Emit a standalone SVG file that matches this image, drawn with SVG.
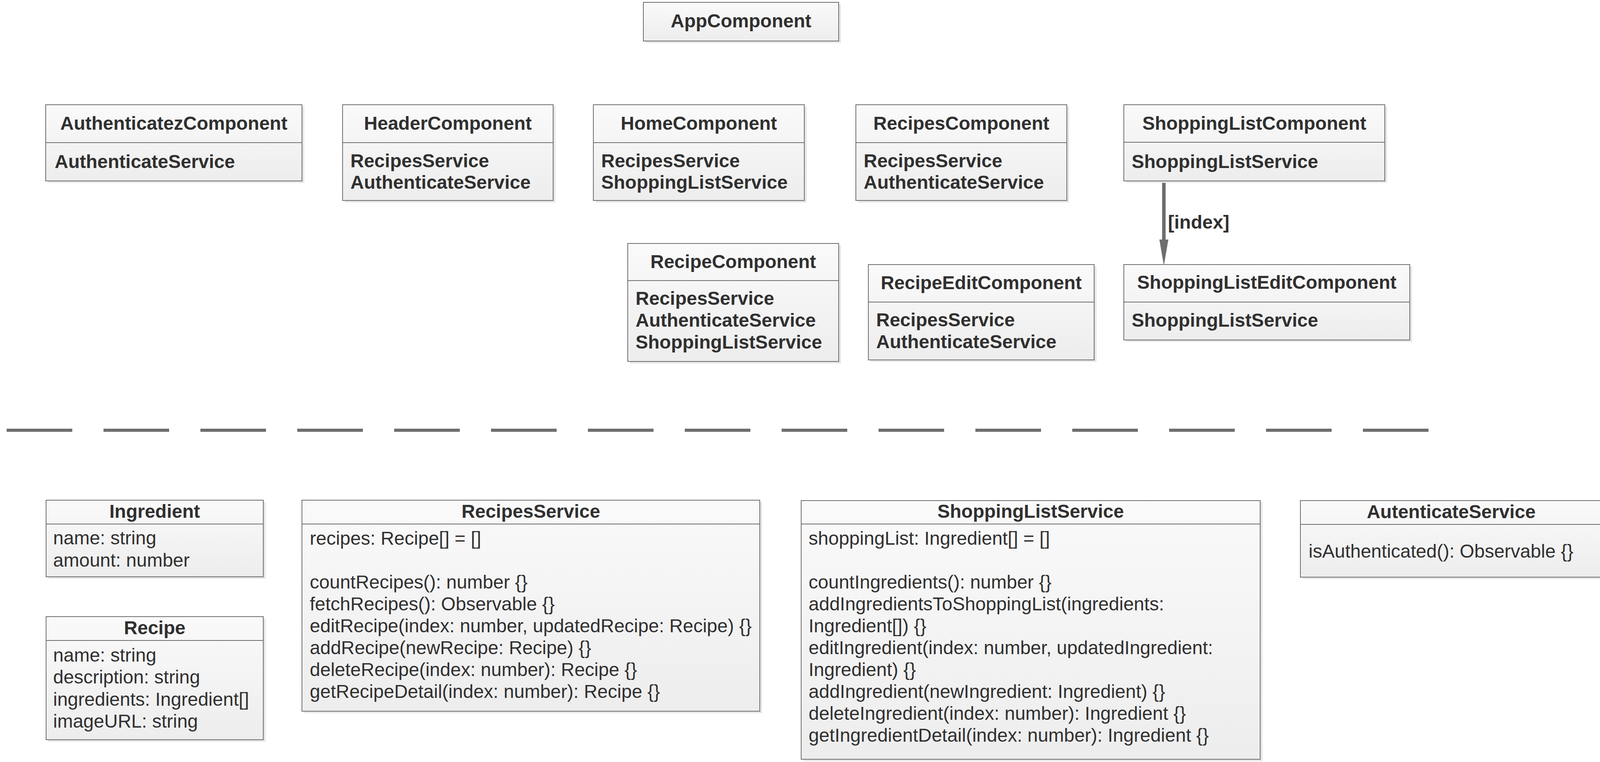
<svg xmlns="http://www.w3.org/2000/svg" width="4108" height="1950" viewBox="0 0 4108 1950">
<defs>
<linearGradient id="boxfill" x1="0" y1="0" x2="0" y2="1">
<stop offset="0" stop-color="#FAFAFA"/>
<stop offset="1" stop-color="#EDEDED"/>
</linearGradient>
</defs>
<style>
.shadow{fill:#E6E6E6;}
.box{fill:url(#boxfill);stroke:#6E6E6E;stroke-width:2;}
.div{stroke:#6E6E6E;stroke-width:2;}
.t{font-family:"Liberation Sans",Arial,sans-serif;font-size:48px;fill:#303030;}
.b{font-weight:bold;}
.c{text-anchor:middle;}
.conn{stroke:#6E6E6E;stroke-width:9;fill:none;}
.head{fill:#6E6E6E;}
.sep{stroke:#6E6E6E;stroke-width:8;stroke-dasharray:168 80;fill:none;}
</style>

<g id="connectors">
<line class="conn" x1="2979.5" y1="463" x2="2979.5" y2="616"/>
<polygon class="head" points="2968,613 2991,613 2979.5,680"/>
<text class="t b" x="2990" y="585">[index]</text>
<line class="sep" x1="17" y1="1101" x2="3657" y2="1101"/>
</g>

<g id="AppComponent">
<rect class="shadow" x="1653" y="11" width="500" height="99"/>
<rect class="box" x="1647" y="6" width="500" height="99"/>
<text class="t b c" x="1897" y="70">AppComponent</text>
</g>

<g id="AuthenticatezComponent">
<rect class="shadow" x="123" y="273" width="656" height="195"/>
<rect class="box" x="117" y="268" width="656" height="195"/>
<line class="div" x1="117" y1="365" x2="773" y2="365"/>
<text class="t b c" x="445" y="332">AuthenticatezComponent</text>
<text class="t b" x="140" y="430">AuthenticateService</text>
</g>

<g id="HeaderComponent">
<rect class="shadow" x="883" y="273" width="539" height="245"/>
<rect class="box" x="877" y="268" width="539" height="245"/>
<line class="div" x1="877" y1="365" x2="1416" y2="365"/>
<text class="t b c" x="1146.5" y="332">HeaderComponent</text>
<text class="t b" x="897" y="428">RecipesService</text>
<text class="t b" x="897" y="483">AuthenticateService</text>
</g>

<g id="HomeComponent">
<rect class="shadow" x="1525" y="273" width="540" height="245"/>
<rect class="box" x="1519" y="268" width="540" height="245"/>
<line class="div" x1="1519" y1="365" x2="2059" y2="365"/>
<text class="t b c" x="1789" y="332">HomeComponent</text>
<text class="t b" x="1539" y="428">RecipesService</text>
<text class="t b" x="1539" y="483">ShoppingListService</text>
</g>

<g id="RecipesComponent">
<rect class="shadow" x="2197" y="273" width="540" height="245"/>
<rect class="box" x="2191" y="268" width="540" height="245"/>
<line class="div" x1="2191" y1="365" x2="2731" y2="365"/>
<text class="t b c" x="2461" y="332">RecipesComponent</text>
<text class="t b" x="2211" y="428">RecipesService</text>
<text class="t b" x="2211" y="483">AuthenticateService</text>
</g>

<g id="ShoppingListComponent">
<rect class="shadow" x="2883" y="273" width="668" height="195"/>
<rect class="box" x="2877" y="268" width="668" height="195"/>
<line class="div" x1="2877" y1="364" x2="3545" y2="364"/>
<text class="t b c" x="3211" y="332">ShoppingListComponent</text>
<text class="t b" x="2897" y="430">ShoppingListService</text>
</g>

<g id="RecipeComponent">
<rect class="shadow" x="1613" y="628" width="540" height="302"/>
<rect class="box" x="1607" y="623" width="540" height="302"/>
<line class="div" x1="1607" y1="718" x2="2147" y2="718"/>
<text class="t b c" x="1877" y="686">RecipeComponent</text>
<text class="t b" x="1627" y="780">RecipesService</text>
<text class="t b" x="1627" y="836">AuthenticateService</text>
<text class="t b" x="1627" y="892">ShoppingListService</text>
</g>

<g id="RecipeEditComponent">
<rect class="shadow" x="2229" y="682" width="578" height="244"/>
<rect class="box" x="2223" y="677" width="578" height="244"/>
<line class="div" x1="2223" y1="773" x2="2801" y2="773"/>
<text class="t b c" x="2512" y="740">RecipeEditComponent</text>
<text class="t b" x="2243" y="835">RecipesService</text>
<text class="t b" x="2243" y="891">AuthenticateService</text>
</g>

<g id="ShoppingListEditComponent">
<rect class="shadow" x="2883" y="682" width="732" height="193"/>
<rect class="box" x="2877" y="677" width="732" height="193"/>
<line class="div" x1="2877" y1="773" x2="3609" y2="773"/>
<text class="t b c" x="3243" y="739">ShoppingListEditComponent</text>
<text class="t b" x="2897" y="836">ShoppingListService</text>
</g>

<g id="Ingredient">
<rect class="shadow" x="124" y="1285" width="556" height="196"/>
<rect class="box" x="118" y="1280" width="556" height="196"/>
<line class="div" x1="118" y1="1341" x2="674" y2="1341"/>
<text class="t b c" x="396" y="1325">Ingredient</text>
<text class="t" x="136" y="1393">name: string</text>
<text class="t" x="136" y="1450">amount: number</text>
</g>

<g id="Recipe">
<rect class="shadow" x="124" y="1583" width="556" height="315"/>
<rect class="box" x="118" y="1578" width="556" height="315"/>
<line class="div" x1="118" y1="1639" x2="674" y2="1639"/>
<text class="t b c" x="396" y="1623">Recipe</text>
<text class="t" x="136" y="1693">name: string</text>
<text class="t" x="136" y="1749">description: string</text>
<text class="t" x="136" y="1806">ingredients: Ingredient[]</text>
<text class="t" x="136" y="1862">imageURL: string</text>
</g>

<g id="RecipesService">
<rect class="shadow" x="779" y="1285" width="1172" height="540"/>
<rect class="box" x="773" y="1280" width="1172" height="540"/>
<line class="div" x1="773" y1="1341" x2="1945" y2="1341"/>
<text class="t b c" x="1359" y="1325">RecipesService</text>
<text class="t" x="793" y="1394">recipes: Recipe[] = []</text>
<text class="t" x="793" y="1506">countRecipes(): number {}</text>
<text class="t" x="793" y="1562">fetchRecipes(): Observable {}</text>
<text class="t" x="793" y="1618">editRecipe(index: number, updatedRecipe: Recipe) {}</text>
<text class="t" x="793" y="1674">addRecipe(newRecipe: Recipe) {}</text>
<text class="t" x="793" y="1730">deleteRecipe(index: number): Recipe {}</text>
<text class="t" x="793" y="1786">getRecipeDetail(index: number): Recipe {}</text>
</g>

<g id="ShoppingListService">
<rect class="shadow" x="2057" y="1286" width="1175" height="662"/>
<rect class="box" x="2051" y="1281" width="1175" height="662"/>
<line class="div" x1="2051" y1="1341" x2="3226" y2="1341"/>
<text class="t b c" x="2638.5" y="1325">ShoppingListService</text>
<text class="t" x="2070" y="1394">shoppingList: Ingredient[] = []</text>
<text class="t" x="2070" y="1506">countIngredients(): number {}</text>
<text class="t" x="2070" y="1562">addIngredientsToShoppingList(ingredients:</text>
<text class="t" x="2070" y="1618">Ingredient[]) {}</text>
<text class="t" x="2070" y="1674">editIngredient(index: number, updatedIngredient:</text>
<text class="t" x="2070" y="1730">Ingredient) {}</text>
<text class="t" x="2070" y="1786">addIngredient(newIngredient: Ingredient) {}</text>
<text class="t" x="2070" y="1842">deleteIngredient(index: number): Ingredient {}</text>
<text class="t" x="2070" y="1898">getIngredientDetail(index: number): Ingredient {}</text>
</g>

<g id="AutenticateService">
<rect class="shadow" x="3335" y="1286" width="772" height="196"/>
<rect class="box" x="3329" y="1281" width="772" height="196"/>
<line class="div" x1="3329" y1="1342" x2="4101" y2="1342"/>
<text class="t b c" x="3715" y="1326">AutenticateService</text>
<text class="t" x="3350" y="1427">isAuthenticated(): Observable {}</text>
</g>
</svg>
